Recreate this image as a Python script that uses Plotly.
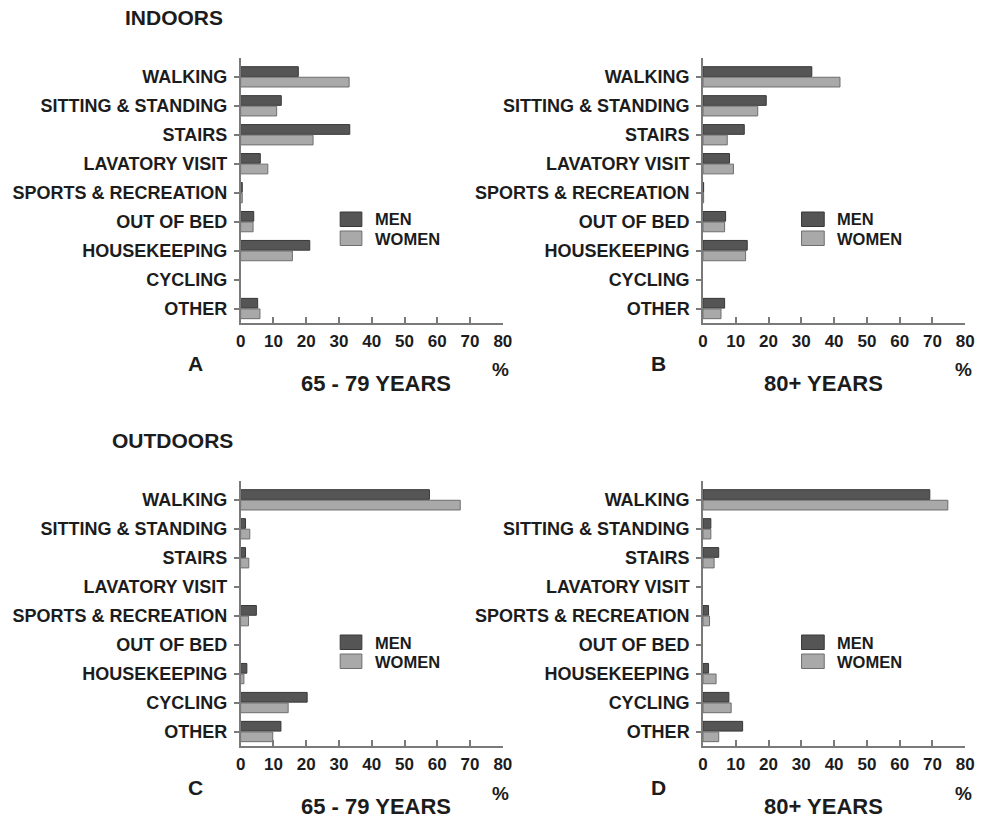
import plotly.graph_objects as go

# Activity categories (top to bottom)
categories = ["WALKING", "SITTING & STANDING", "STAIRS", "LAVATORY VISIT",
              "SPORTS & RECREATION", "OUT OF BED", "HOUSEKEEPING", "CYCLING", "OTHER"]

# Share of falls (%) per activity
indoor_65_men   = [17.6, 12.4, 33.3, 6.0, 0.5, 4.0, 21.1, 0.0, 5.2]
indoor_65_women = [33.1, 11.0, 22.1, 8.3, 0.5, 3.8, 15.8, 0.0, 5.9]
indoor_80_men   = [33.2, 19.3, 12.6, 8.1, 0.2, 6.9, 13.5, 0.0, 6.6]
indoor_80_women = [41.8, 16.7, 7.4, 9.3, 0.2, 6.6, 13.0, 0.0, 5.5]
outdoor_65_men   = [57.6, 1.5, 1.5, 0.0, 4.8, 0.0, 1.9, 20.3, 12.3]
outdoor_65_women = [67.0, 2.8, 2.5, 0.0, 2.4, 0.0, 1.0, 14.5, 9.8]
outdoor_80_men   = [69.2, 2.4, 4.8, 0.0, 1.7, 0.0, 1.7, 7.9, 12.1]
outdoor_80_women = [74.7, 2.4, 3.4, 0.0, 2.0, 0.0, 4.0, 8.6, 4.8]

x_ticks = [0, 10, 20, 30, 40, 50, 60, 70, 80]
panel_letters = ["A", "B", "C", "D"]
age_groups = ["65 - 79 YEARS", "80+ YEARS", "65 - 79 YEARS", "80+ YEARS"]
section_titles = ["INDOORS", "OUTDOORS"]
series_names = ["MEN", "WOMEN"]

W, H = 989, 818
FONT = "Liberation Sans, Arial, Helvetica, sans-serif"
TXT = "#1c1c1c"
AXIS = "#7a7a7a"
MEN_FILL, MEN_LINE = "#555555", "#383838"
WOM_FILL, WOM_LINE = "#a9a9a9", "#6e6e6e"


def px(x):
    return x / W


def py(y):
    return 1 - y / H


panels = [
    (indoor_65_men, indoor_65_women),
    (indoor_80_men, indoor_80_women),
    (outdoor_65_men, outdoor_65_women),
    (outdoor_80_men, outdoor_80_women),
]

# panel frames in pixels: (left, right) of x axis, (top, bottom) of y axis
x_spans = [(239, 505), (708, 974)]
y_spans = [(58, 323), (481, 746)]

fig = go.Figure()
layout_axes = {}


def outline_widths(values):
    # no outline on empty bars so nothing is drawn at the axis
    return [1 if v > 0 else 0 for v in values]


for i, (men, women) in enumerate(panels):
    col, row = i % 2, i // 2
    suffix = "" if i == 0 else str(i + 1)
    xa, ya = "x" + suffix, "y" + suffix
    fig.add_trace(go.Bar(
        x=men, y=categories, orientation="h", name=series_names[0],
        xaxis=xa, yaxis=ya, showlegend=False,
        marker=dict(color=MEN_FILL,
                    line=dict(color=MEN_LINE, width=outline_widths(men))),
    ))
    fig.add_trace(go.Bar(
        x=women, y=categories, orientation="h", name=series_names[1],
        xaxis=xa, yaxis=ya, showlegend=False,
        marker=dict(color=WOM_FILL,
                    line=dict(color=WOM_LINE, width=outline_widths(women))),
    ))
    x0, x1 = x_spans[col]
    y0, y1 = y_spans[row]
    layout_axes["xaxis" + suffix] = dict(
        domain=[px(x0), px(x1)], anchor=ya, range=[0, 80],
        tickvals=x_ticks, ticktext=[str(v) for v in x_ticks],
        ticks="inside", ticklen=6, tickwidth=1.5, tickcolor=AXIS,
        showline=True, linecolor=AXIS, linewidth=1.5,
        showgrid=False, zeroline=False, fixedrange=True,
        tickfont=dict(size=17, family=FONT, color=TXT, weight="bold"),
        ticklabelstandoff=2,
    )
    layout_axes["yaxis" + suffix] = dict(
        domain=[py(y1), py(y0)], anchor=xa, type="category",
        categoryorder="array", categoryarray=categories,
        range=[8.5, -0.65],
        ticks="outside", ticklen=5, tickwidth=1.5, tickcolor=AXIS,
        showline=True, linecolor=AXIS, linewidth=1.5,
        showgrid=False, zeroline=False, fixedrange=True,
        tickfont=dict(size=18, family=FONT, color=TXT, weight="bold"),
        ticklabelstandoff=3,
    )

annotations = []
shapes = []


def label(text, x, y, size, xanchor="center"):
    annotations.append(dict(
        text=text, x=px(x), y=py(y), xref="paper", yref="paper",
        xanchor=xanchor, yanchor="middle", showarrow=False,
        font=dict(size=size, family=FONT, color=TXT, weight="bold"),
    ))


# section headings
label(section_titles[0], 171, 17, 21)
label(section_titles[1], 170, 440, 21)

letter_x = [193, 663]
pct_x = [503, 972]
age_x = [376, 830]
legend_box_x = [(340, 362), (808, 831)]
legend_text_x = [373, 842]

for i in range(4):
    col, row = i % 2, i // 2
    base = y_spans[row][1]
    label(panel_letters[i], letter_x[col], base + 41, 21)
    label("%", pct_x[col], base + 47, 19)
    label(age_groups[i], age_x[col], base + 60, 22)

    # legend: swatch + name for each series
    bx0, bx1 = legend_box_x[col]
    top = base - 111
    for k, (fill, line) in enumerate([(MEN_FILL, MEN_LINE), (WOM_FILL, WOM_LINE)]):
        t = top + k * 19
        shapes.append(dict(
            type="rect", xref="paper", yref="paper",
            x0=px(bx0), x1=px(bx1), y0=py(t + 14.5), y1=py(t),
            fillcolor=fill, line=dict(color=line, width=1),
        ))
        label(series_names[k], legend_text_x[col], t + 7.5, 16.5, xanchor="left")

fig.update_layout(
    width=W, height=H,
    margin=dict(l=0, r=0, t=0, b=0),
    paper_bgcolor="white", plot_bgcolor="white",
    barmode="group", bargap=0.27, bargroupgap=0.08,
    font=dict(family=FONT, color=TXT, size=18, weight="bold"),
    annotations=annotations, shapes=shapes,
    showlegend=False,
    **layout_axes,
)

fig.write_html("out.html")
